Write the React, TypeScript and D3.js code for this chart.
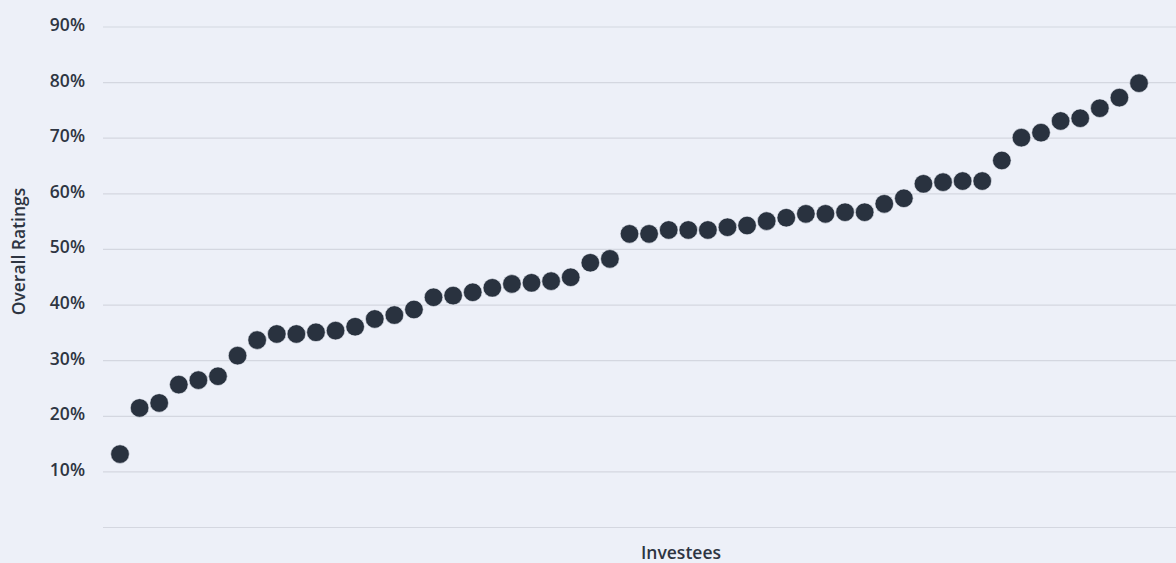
import React from "react";
import * as d3 from "d3";

const W = 1176;
const H = 563;

const ratings: number[] = [
  13.2, 21.5, 22.4, 25.7, 26.5, 27.2, 30.9, 33.7, 34.8, 34.8, 35.1, 35.4, 36.1, 37.5, 38.2,
  39.2, 41.4, 41.7, 42.3, 43.1, 43.8, 44.0, 44.3, 45.0, 47.6, 48.3, 52.8, 52.8, 53.5, 53.5,
  53.5, 54.0, 54.3, 55.1, 55.7, 56.4, 56.4, 56.7, 56.7, 58.2, 59.2, 61.8, 62.1, 62.3, 62.3,
  66.0, 70.1, 71.0, 73.1, 73.6, 75.4, 77.3, 79.9,
];
const yTicks: number[] = [0, 10, 20, 30, 40, 50, 60, 70, 80, 90];
const yTitle = "Overall Ratings";
const xTitle = "Investees";

export default function App() {
  const x = d3
    .scalePoint<number>()
    .domain(ratings.map((_, i) => i))
    .range([120, 1139]);
  const y = d3.scaleLinear().domain([0, 90]).range([527.5, 27]);
  const textColor = "#2e3542";
  const font = "'Open Sans', sans-serif";

  return (
    <div style={{ position: "fixed", left: 0, top: 0, width: W, height: H }}>
      <svg width={W} height={H} style={{ display: "block", background: "#edf0f8" }}>
        {yTicks.map((t) => (
          <g key={t}>
            <line x1={103} x2={W} y1={y(t)} y2={y(t)} stroke="#d4d7e0" strokeWidth={1.2} />
            {t > 0 && (
              <text
                x={85}
                y={y(t) + 4}
                textAnchor="end"
                fontFamily={font}
                fontWeight={600}
                fontSize={17.5}
                fill={textColor}
              >
                {t}%
              </text>
            )}
          </g>
        ))}
        {ratings.map((v, i) => (
          <circle
            key={i}
            cx={x(i)}
            cy={y(v)}
            r={9.3}
            fill="#29323f"
            stroke="#edf0f8"
            strokeWidth={0.6}
          />
        ))}
        <text
          transform={`translate(25, 251.5) rotate(-90)`}
          textAnchor="middle"
          fontFamily={font}
          fontWeight={600}
          fontSize={17.5}
          fill={textColor}
        >
          {yTitle}
        </text>
        <text
          x={681}
          y={559}
          textAnchor="middle"
          fontFamily={font}
          fontWeight={600}
          fontSize={17.5}
          fill={textColor}
        >
          {xTitle}
        </text>
      </svg>
    </div>
  );
}
